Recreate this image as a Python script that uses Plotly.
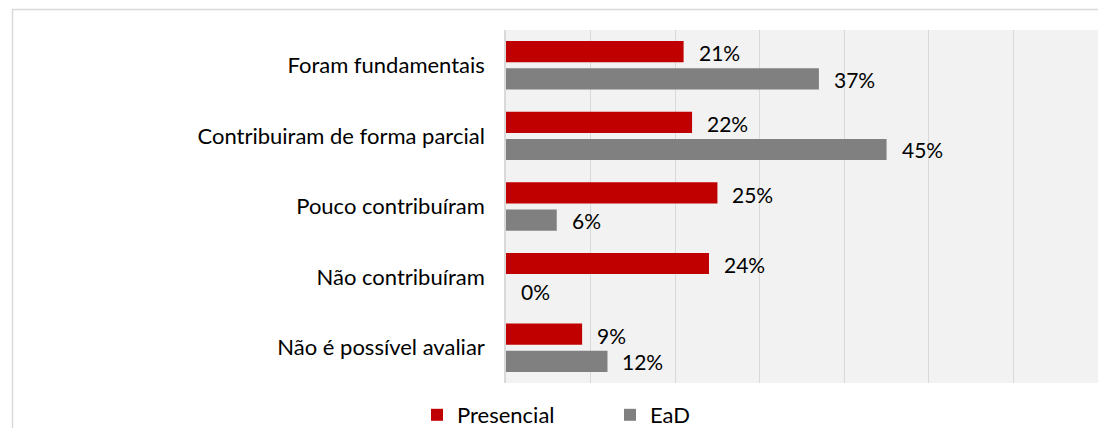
import plotly.graph_objects as go

categories = ["Foram fundamentais", "Contribuiram de forma parcial", "Pouco contribuíram",
              "Não contribuíram", "Não é possível avaliar"]
presencial = [21, 22, 25, 24, 9]
ead = [37, 45, 6, 0, 12]
x_ticks = [0, 10, 20, 30, 40, 50, 60, 70]

RED = "#C00000"
GRAY = "#808080"
FONT = "Lato"

fig = go.Figure()
fig.add_trace(go.Bar(y=categories, x=presencial, name="Presencial", orientation="h",
                     marker=dict(color=RED, line=dict(width=0)), showlegend=True))
fig.add_trace(go.Bar(y=categories, x=ead, name="EaD", orientation="h",
                     marker=dict(color=GRAY, line=dict(width=0)), showlegend=True))

annotations = []
for cat, p, e in zip(categories, presencial, ead):
    annotations.append(dict(x=p, y=cat, text=f"{p}%", showarrow=False, xanchor="left",
                            xshift=13, yshift=12.5, font=dict(size=21, color="#000", family=FONT)))
    annotations.append(dict(x=e, y=cat, text=f"{e}%", showarrow=False, xanchor="left",
                            xshift=13, yshift=-14, font=dict(size=21, color="#000", family=FONT)))

# page has an 8px body margin; figure coordinates are page - 8
W, H = 1098, 420
L, R, T, B = 498, 8, 22, 45
pw, ph = W - L - R, H - T - B

def px_x(p):
    return (p - L) / pw

def px_y(p):
    return (H - B - p) / ph

shapes = [dict(type="rect", xref="paper", yref="paper",
               x0=px_x(4.5), x1=px_x(1120), y0=px_y(1.5), y1=px_y(440),
               line=dict(color="#d9d9d9", width=1.5), fillcolor="rgba(0,0,0,0)", layer="below")]

fig.update_layout(
    width=W, height=H,
    margin=dict(l=L, r=R, t=T, b=B, autoexpand=False),
    paper_bgcolor="white",
    plot_bgcolor="#f2f2f2",
    barmode="group",
    bargap=0.23,
    bargroupgap=0.22,
    font=dict(family=FONT, size=22, color="#000"),
    xaxis=dict(range=[0, 70], tickvals=x_ticks, showticklabels=False, showgrid=True,
               gridcolor="#d9d9d9", gridwidth=1, zeroline=False, showline=False, fixedrange=True),
    yaxis=dict(categoryorder="array", categoryarray=categories, autorange="reversed",
               showgrid=False, zeroline=False, showline=True, linecolor="#d9d9d9", linewidth=1.5,
               ticks="", ticklabelstandoff=15, tickfont=dict(size=22, family=FONT, color="#000")),
    legend=dict(orientation="h", x=409 / W, xref="container", xanchor="left",
                y=px_y(407), yref="paper", yanchor="middle",
                font=dict(size=22, family=FONT, color="#000"),
                traceorder="normal", itemwidth=30, entrywidth=148, entrywidthmode="pixels"),
    annotations=annotations,
    shapes=shapes,
)

fig.write_html("out.html")
